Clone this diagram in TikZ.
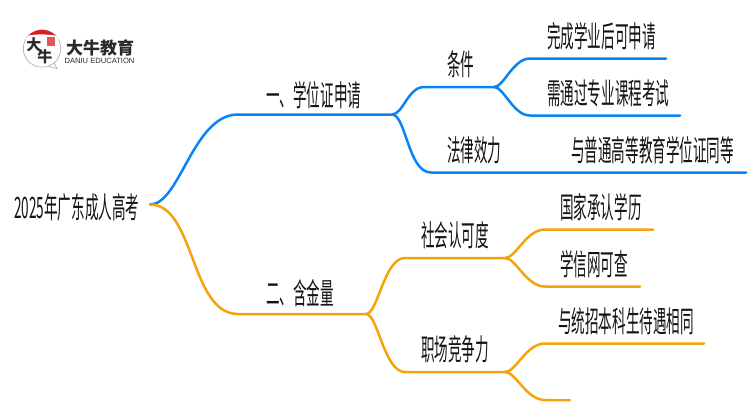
\documentclass[tikz,border=0pt]{standalone}
\usepackage{fontspec}
\setmainfont{Noto Sans CJK SC}
\setsansfont{Liberation Sans}
\definecolor{bblue}{HTML}{0A84F5}
\definecolor{oorange}{HTML}{F5A30A}
\definecolor{logoink}{HTML}{2A2A2A}
\definecolor{logored}{HTML}{D81E1E}
\newcommand{\sqz}[1]{\scalebox{0.46}[1]{#1}}
\tikzset{
  lbl/.style={anchor=west,inner sep=0pt,font=\fontsize{29.5}{30}\selectfont,text=black!92},
  bluelink/.style={draw=bblue,line width=2.5pt,line cap=round},
  orangelink/.style={draw=oorange,line width=2.5pt,line cap=round},
  blogo/.style={inner sep=0pt,text=logoink}
}
\begin{document}
\begin{tikzpicture}[x=1pt,y=-1pt]
\useasboundingbox (0,0) rectangle (750,410);
% logo
\draw[black!35,line width=0.6pt] (48,66.5) -- (57,68.5) -- (54,63);
\fill[white,draw=black!35,line width=0.6pt] (42,48.5) circle (18.7);
\begin{scope}
\clip (42,48.5) circle (18.7);
\fill[logored] (23,29) rectangle (61,36) ;
\fill[white] (23,37) .. controls (32,33.5) and (50,33.5) .. (61,37) -- (61,40) -- (23,40) -- cycle;
\end{scope}
\fill[logored!75] (47,37) rectangle (55,46);
\node[blogo,font=\fontsize{15}{15}\selectfont\bfseries] (logoa) at (34,45) {大};
\node[blogo,font=\fontsize{15}{15}\selectfont\bfseries] (logob) at (45,57) {牛};
\node[blogo,font=\fontsize{17}{17}\selectfont\bfseries] (logoc) at (100,48) {大牛教育};
\node[blogo,font=\sffamily\fontsize{7.6}{8}\selectfont] (logod) at (99.5,60.5) {DANIU EDUCATION};
% labels
\node[lbl] (root) at (14,207) {\sqz{2025年广东成人高考}};
\node[lbl] (one) at (266,95) {\sqz{一、学位证申请}};
\node[lbl] (two) at (266,293) {\sqz{二、含金量}};
\node[lbl] (tj) at (447,64) {\sqz{条件}};
\node[lbl] (fl) at (447,150) {\sqz{法律效力}};
\node[lbl] (wc) at (547,36) {\sqz{完成学业后可申请}};
\node[lbl] (xt) at (547,93) {\sqz{需通过专业课程考试}};
\node[lbl] (yp) at (571,150) {\sqz{与普通高等教育学位证同等}};
\node[lbl] (sh) at (421,235) {\sqz{社会认可度}};
\node[lbl] (zc) at (421,349) {\sqz{职场竞争力}};
\node[lbl] (gj) at (560,207) {\sqz{国家承认学历}};
\node[lbl] (xx) at (560,264) {\sqz{学信网可查}};
\node[lbl] (yt) at (558,321) {\sqz{与统招本科生待遇相同}};
% coordinates
\coordinate (r) at (150,204.5);
\coordinate (a1) at (238,114.5);
\coordinate (a2) at (392,114.5);
\coordinate (b1) at (424,87);
\coordinate (b2) at (494,87);
\coordinate (c1) at (530,58.5);
\coordinate (c1e) at (666,58.5);
\coordinate (c2) at (530,115.5);
\coordinate (c2e) at (680,115.5);
\coordinate (d1) at (431,172.5);
\coordinate (d1e) at (746,172.5);
\coordinate (e1) at (238,314);
\coordinate (e2) at (366,314);
\coordinate (f1) at (405,258);
\coordinate (f2) at (505,258);
\coordinate (g1) at (545,229.5);
\coordinate (g1e) at (653,229.5);
\coordinate (g2) at (545,286.5);
\coordinate (g2e) at (640,286.5);
\coordinate (h1) at (405,372);
\coordinate (h2) at (505,372);
\coordinate (i1) at (545,343.5);
\coordinate (i1e) at (704,343.5);
\coordinate (i2) at (545,400);
\coordinate (i2e) at (570,400);
% blue
\path[bluelink] (r) .. controls (180,204.5) and (193,114.5) .. (a1) -- (a2);
\path[bluelink] (a2) .. controls (403,114.5) and (408,87) .. (b1) -- (b2);
\path[bluelink] (a2) .. controls (406,114.5) and (408,172.5) .. (d1) -- (d1e);
\path[bluelink] (b2) .. controls (504,87) and (513,58.5) .. (c1) -- (c1e);
\path[bluelink] (b2) .. controls (504,87) and (513,115.5) .. (c2) -- (c2e);
% orange
\path[orangelink] (r) .. controls (195,204.5) and (190,314) .. (e1) -- (e2);
\path[orangelink] (e2) .. controls (378,314) and (384,258) .. (f1) -- (f2);
\path[orangelink] (e2) .. controls (378,314) and (384,372) .. (h1) -- (h2);
\path[orangelink] (f2) .. controls (516,258) and (526,229.5) .. (g1) -- (g1e);
\path[orangelink] (f2) .. controls (516,258) and (526,286.5) .. (g2) -- (g2e);
\path[orangelink] (h2) .. controls (516,372) and (526,343.5) .. (i1) -- (i1e);
\path[orangelink] (h2) .. controls (516,372) and (526,400) .. (i2) -- (i2e);
\end{tikzpicture}
\end{document}
